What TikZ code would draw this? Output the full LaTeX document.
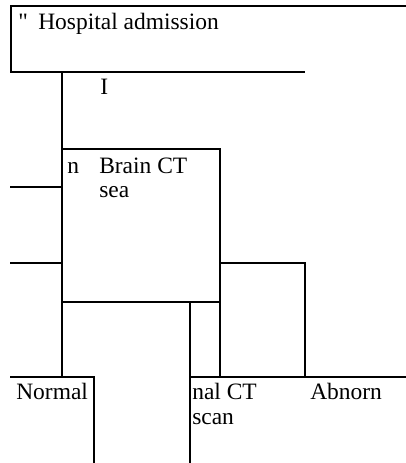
\documentclass[tikz,border=0pt]{standalone}
\usepackage{fontspec}
\setmainfont{Liberation Serif}
\usetikzlibrary{positioning}
\tikzset{
  rule/.style={line width=1.5pt},
  boxtext/.style={anchor=base west, inner sep=0pt, font=\fontsize{17.6}{17.6}\selectfont}
}
\begin{document}
\begin{tikzpicture}[x=0.75pt,y=-0.75pt]
  \useasboundingbox (0,0) rectangle (406,463);
  % corners of the frames
  \coordinate (adm) at (11,6);
  \coordinate (ct) at (62,149);
  \coordinate (ctr) at (220,302);
  \coordinate (base) at (10,377);
  % texts
  \node [boxtext] (q) at (18,30) {\textquotedbl};
  \node [boxtext] (hosp) at (38,30) {Hospital admission};
  \node [boxtext] (bar) at (100,95) {I};
  \node [boxtext] (n) at (67,174) {n};
  \node [boxtext] (brain) at (99,174) {Brain CT};
  \node [boxtext] (sea) at (99,197) {sea};
  \node [boxtext] (norm) at (16,399) {Normal};
  \node [boxtext] (nal) at (192,399) {nal CT};
  \node [boxtext] (scan) at (192,424) {scan};
  \node [boxtext] (abn) at (310,399) {Abnorn};
  % admission frame
  \draw [rule] (406,6) -- (adm) -- (11,72) -- (305,72);
  % brain CT frame
  \draw [rule] (62,72) -- (62,377);
  \draw [rule] (ct) -- (220,149) -- (220,377);
  \draw [rule] (ct |- ctr) -- (ctr);
  \draw [rule] (10,187) -- (62,187);
  \draw [rule] (10,263) -- (62,263);
  \draw [rule] (220,263) -- (305,263) -- (305,377);
  \draw [rule] (190,302) -- (190,463);
  % result frames
  \draw [rule] (base) -- (94,377) -- (94,463);
  \draw [rule] (190,377) -- (406,377);
\end{tikzpicture}
\end{document}
